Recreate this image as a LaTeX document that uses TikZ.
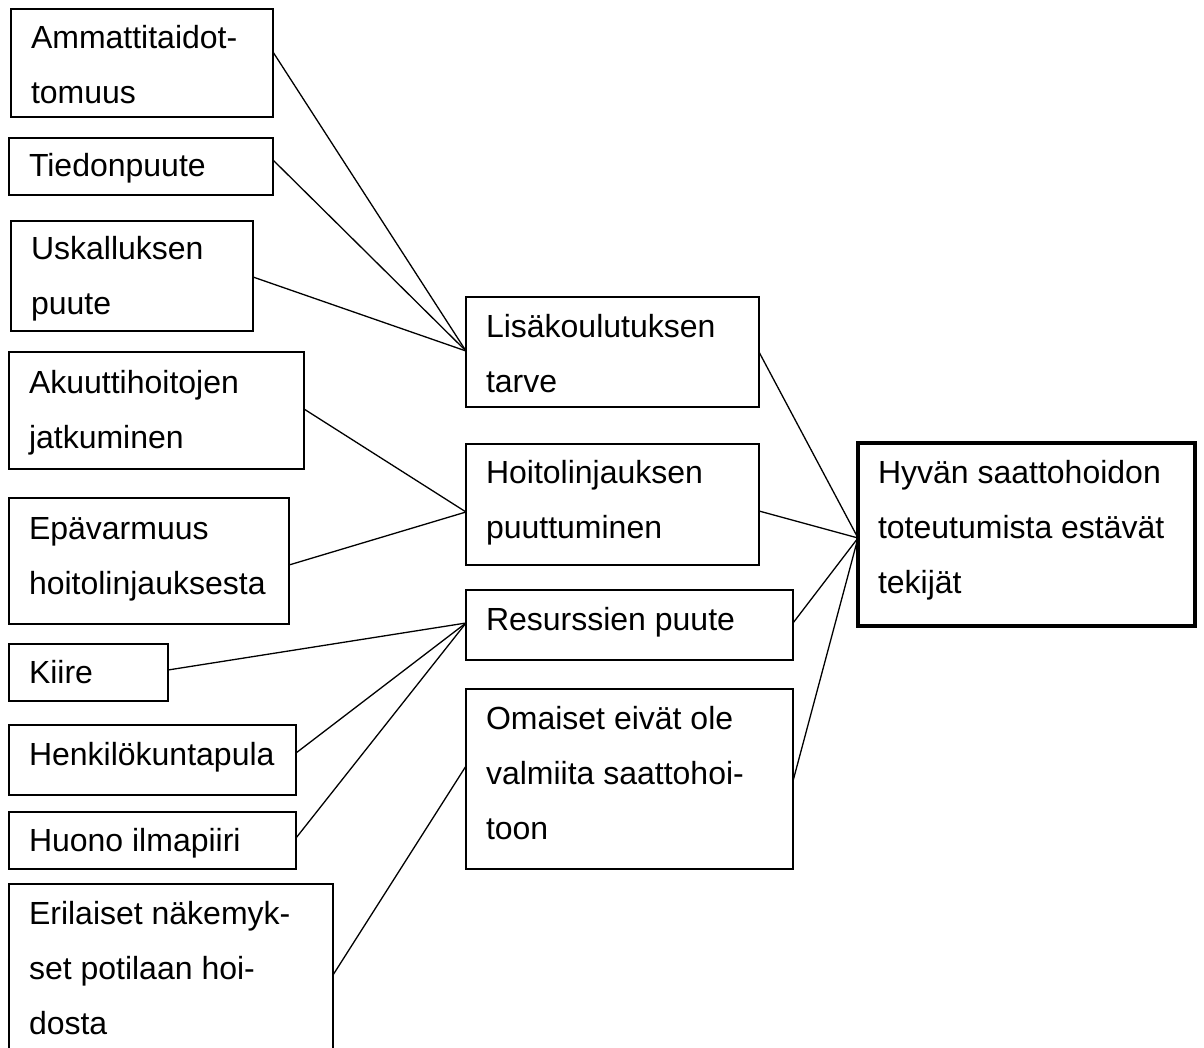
\documentclass[tikz,border=0pt]{standalone}
\usepackage{fontspec}
\setmainfont{Liberation Sans}
\begin{document}
\begin{tikzpicture}[x=1pt,y=-1pt,
  bx/.style={draw=black, line width=1.3pt, rectangle, inner sep=0pt, outer sep=0pt, anchor=north west},
  bxthick/.style={bx, line width=3.6pt},
  txt/.style={anchor=north west, inner sep=0pt, outer sep=0pt, align=left,
    font={\fontsize{32}{55}\selectfont}},
  conn/.style={draw=black, line width=1.3pt}]
\useasboundingbox (0,0) rectangle (1204,1048);
\fill[white] (0,0) rectangle (1204,1048);
\newcommand\fs{\rule{0pt}{30pt}}
% left column
\node[bx, minimum width=262pt, minimum height=108pt] (A) at (11,9) {};
\node[txt] (tA) at (31,19) {\fs Ammattitaidot-\\tomuus};
\node[bx, minimum width=264pt, minimum height=57pt] (B) at (9,138) {};
\node[txt] (tB) at (29,147) {\fs Tiedonpuute};
\node[bx, minimum width=242pt, minimum height=110pt] (C) at (11,221) {};
\node[txt] (tC) at (31,230) {\fs Uskalluksen\\puute};
\node[bx, minimum width=295pt, minimum height=117pt] (D) at (9,352) {};
\node[txt] (tD) at (29,363) {\fs Akuuttihoitojen\\jatkuminen};
\node[bx, minimum width=280pt, minimum height=126pt] (E) at (9,498) {};
\node[txt] (tE) at (29,509) {\fs Epävarmuus\\hoitolinjauksesta};
\node[bx, minimum width=159pt, minimum height=57pt] (F) at (9,644) {};
\node[txt] (tF) at (29,653) {\fs Kiire};
\node[bx, minimum width=287pt, minimum height=70pt] (G) at (9,725) {};
\node[txt] (tG) at (29,735) {\fs Henkilökuntapula};
\node[bx, minimum width=287pt, minimum height=57pt] (H) at (9,812) {};
\node[txt] (tH) at (29,821) {\fs Huono ilmapiiri};
\node[bx, minimum width=324pt, minimum height=180pt] (I) at (9,884) {};
\node[txt] (tI) at (29,894) {\fs Erilaiset näkemyk-\\set potilaan hoi-\\dosta};
% middle column
\node[bx, minimum width=293pt, minimum height=110pt] (M1) at (466,297) {};
\node[txt] (tM1) at (486,307) {\fs Lisäkoulutuksen\\tarve};
\node[bx, minimum width=293pt, minimum height=121pt] (M2) at (466,444) {};
\node[txt] (tM2) at (486,453) {\fs Hoitolinjauksen\\puuttuminen};
\node[bx, minimum width=327pt, minimum height=70pt] (M3) at (466,590) {};
\node[txt] (tM3) at (486,600) {\fs Resurssien puute};
\node[bx, minimum width=327pt, minimum height=180pt] (M4) at (466,689) {};
\node[txt] (tM4) at (486,699) {\fs Omaiset eivät ole\\valmiita saattohoi-\\toon};
% right
\node[bxthick, minimum width=337pt, minimum height=183pt] (R) at (858,443) {};
\node[txt] (tR) at (878,453) {\fs Hyvän saattohoidon\\toteutumista estävät\\tekijät};
% hub coordinates
\coordinate (h1) at ([yshift=-54pt]M1.north west);
\coordinate (h2) at ([yshift=-68pt]M2.north west);
\coordinate (h3) at ([yshift=-33pt]M3.north west);
\coordinate (h4) at ([yshift=-77pt]M4.north west);
\coordinate (hR) at ([yshift=-95pt]R.north west);
% connectors
\draw[conn] ([yshift=-43pt]A.north east) -- (h1);
\draw[conn] ([yshift=-22pt]B.north east) -- (h1);
\draw[conn] ([yshift=-56pt]C.north east) -- (h1);
\draw[conn] ([yshift=-57pt]D.north east) -- (h2);
\draw[conn] ([yshift=-67pt]E.north east) -- (h2);
\draw[conn] ([yshift=-26pt]F.north east) -- (h3);
\draw[conn] ([yshift=-28pt]G.north east) -- (h3);
\draw[conn] ([yshift=-26pt]H.north east) -- (h3);
\draw[conn] ([yshift=-91pt]I.north east) -- (h4);
\draw[conn] ([yshift=-55pt]M1.north east) -- (hR);
\draw[conn] ([yshift=-67pt]M2.north east) -- (hR);
\draw[conn] ([yshift=-33pt]M3.north east) -- (hR);
\draw[conn] ([yshift=-92pt]M4.north east) -- (hR);
\end{tikzpicture}
\end{document}
